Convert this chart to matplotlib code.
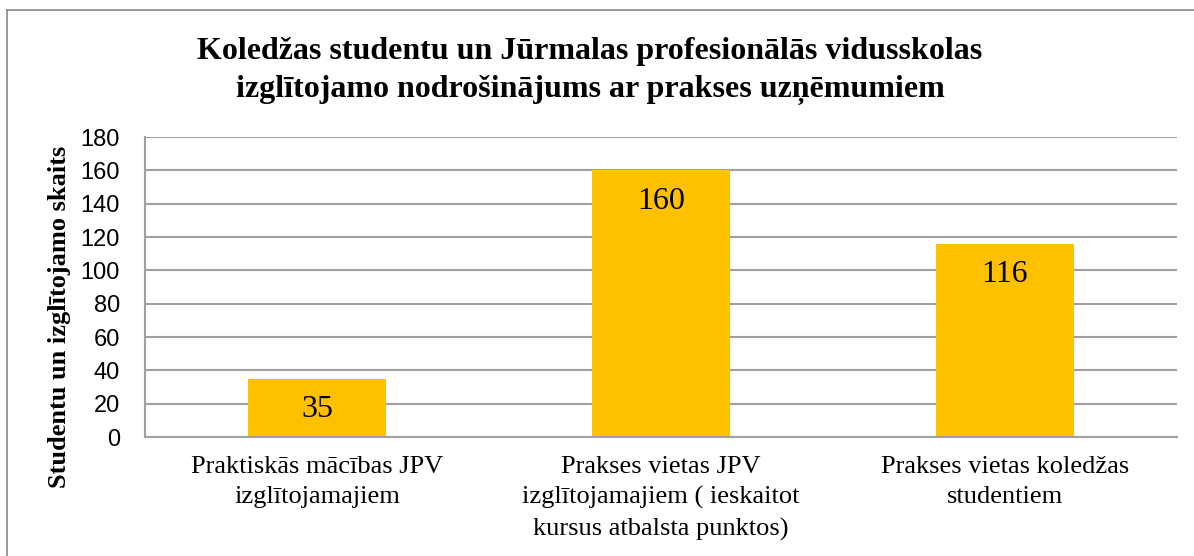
import matplotlib
matplotlib.use("Agg")
import matplotlib.pyplot as plt
from matplotlib.lines import Line2D

categories = [
    "Praktiskās mācības JPV\nizglītojamajiem",
    "Prakses vietas JPV\nizglītojamajiem ( ieskaitot\nkursus atbalsta punktos)",
    "Prakses vietas koledžas\nstudentiem",
]
values = [35, 160, 116]
yticks = [0, 20, 40, 60, 80, 100, 120, 140, 160, 180]
title = "Koledžas studentu un Jūrmalas profesionālās vidusskolas\nizglītojamo nodrošinājums ar prakses uzņēmumiem"
ylabel = "Studentu un izglītojamo skaits"

W, H = 1194, 556
fig = plt.figure(figsize=(W / 100, H / 100), dpi=100)
ax = fig.add_axes([145 / W, 1 - 437 / H, (1177 - 145) / W, 300 / H])

grid_c = "#a0a0a0"
bar_c = "#ffc000"
x = range(len(values))
ax.bar(x, values, width=0.4, color=bar_c, zorder=2)
ax.set_xlim(-0.5, len(values) - 0.5)
ax.set_ylim(0, 180)
ax.set_yticks(yticks)
for t in yticks:
    ax.axhline(t, color=grid_c, lw=1.5, zorder=1)

for s in ["top", "right"]:
    ax.spines[s].set_visible(False)
for s in ["left", "bottom"]:
    ax.spines[s].set_color(grid_c)
    ax.spines[s].set_linewidth(1.5)

ax.tick_params(axis="y", length=0, pad=18, labelsize=17)
ax.tick_params(axis="x", length=0, pad=14)
for lab in ax.get_yticklabels():
    lab.set_fontfamily("Liberation Sans")
ax.set_xticks(list(x))
ax.set_xticklabels(categories, fontfamily="Liberation Serif", fontsize=19,
                   linespacing=1.45, va="top")

for i, v in enumerate(values):
    ax.text(i, v - 18.6, str(v), ha="center", va="center",
            fontfamily="Liberation Serif", fontsize=23, zorder=3)

fig.text(60 / W, 1 - 317 / H, ylabel, rotation=90, ha="center", va="center",
         fontfamily="Liberation Serif", fontweight="bold", fontsize=19)

fig.text(590 / W, 1 - 71 / H, title, ha="center", va="center",
         fontfamily="Liberation Serif", fontweight="bold", fontsize=23,
         linespacing=1.4)

# chart border
fig.add_artist(Line2D([7 / W, 7 / W], [0, 1 - 10 / H], color="#888888", lw=1.2,
                      transform=fig.transFigure))
fig.add_artist(Line2D([7 / W, 1], [1 - 10 / H, 1 - 10 / H], color="#888888", lw=1.2,
                      transform=fig.transFigure))

fig.savefig("out.png", dpi=100)
